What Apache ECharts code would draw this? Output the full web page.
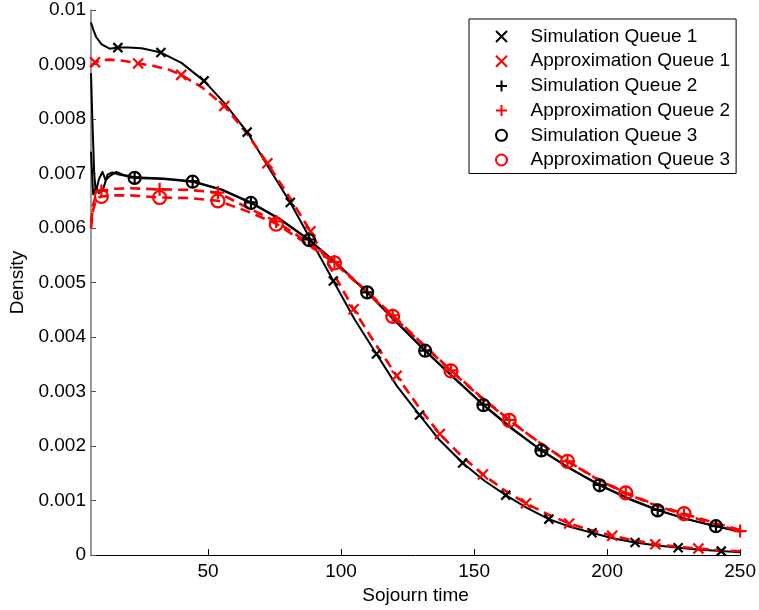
<!DOCTYPE html>
<html>
<head>
<meta charset="utf-8">
<script src="https://cdn.jsdelivr.net/npm/echarts@6/dist/echarts.min.js"></script>
<style>
html,body{margin:0;padding:0;background:#fff;}
#chart{width:759px;height:610px;}
</style>
</head>
<body>
<div id="chart"></div>
<script>
// All density values below are in units of 0.001
const UNIT = 0.001;

const xTickValues = [50, 100, 150, 200, 250];
const yMin = 0, yMax = 0.01, yStep = 0.001;

// ---- line data (curves) ----
const simQ1X = [6, 7, 8, 10, 13, 16.1, 20, 25, 32.3, 40, 48.5, 56, 64.7, 72, 80.9, 89, 97.1, 105, 113.3, 121, 129.5, 137, 145.7, 154, 161.9, 170, 178.1, 186, 194.3, 202, 210.5, 218, 226.7, 235, 242.9, 250];
const simQ1Y = [9.77, 9.62, 9.50, 9.37, 9.29, 9.31, 9.31, 9.30, 9.22, 9.03, 8.70, 8.30, 7.76, 7.17, 6.47, 5.75, 5.03, 4.33, 3.69, 3.10, 2.57, 2.11, 1.69, 1.36, 1.10, 0.86, 0.66, 0.52, 0.41, 0.31, 0.23, 0.18, 0.135, 0.10, 0.073, 0.05];

const appQ1X = [6, 7.5, 10, 13, 18, 23.7, 30, 35, 39.9, 48, 56.1, 64.2, 72.3, 80.4, 88.5, 96.6, 104.7, 112.8, 120.9, 129, 137.1, 145.2, 153.3, 161.4, 169.5, 177.6, 185.7, 193.8, 201.9, 210, 218.1, 226.2, 234.3, 242, 250];
const appQ1Y = [8.96, 9.04, 9.08, 9.09, 9.07, 9.02, 8.97, 8.91, 8.81, 8.57, 8.24, 7.76, 7.19, 6.58, 5.94, 5.22, 4.51, 3.88, 3.29, 2.73, 2.22, 1.82, 1.48, 1.19, 0.95, 0.75, 0.58, 0.46, 0.355, 0.27, 0.20, 0.155, 0.12, 0.09, 0.07];

const simQ2X = [6, 6.5, 7.2, 7.8, 9, 10.3, 11.5, 13, 15.5, 18, 22.4, 33.3, 44.2, 55.1, 66.1, 77, 87.9, 98.9, 109.8, 120.7, 131.6, 142.6, 153.5, 164.4, 175.3, 186.3, 197.2, 208.1, 219.0, 229.9, 240.9, 250];
const simQ2Y = [8.84, 8.00, 7.00, 6.66, 6.90, 7.03, 6.88, 6.95, 7.03, 6.98, 6.93, 6.91, 6.86, 6.71, 6.47, 6.17, 5.79, 5.33, 4.82, 4.28, 3.75, 3.24, 2.76, 2.32, 1.92, 1.58, 1.29, 1.04, 0.83, 0.66, 0.53, 0.44];

const simQ3X = [6, 6.8, 8, 9, 10.5, 12.2, 14, 16.5, 22.4, 33.3, 44.2, 55.1, 66.1, 77, 87.9, 98.9, 109.8, 120.7, 131.6, 142.6, 153.5, 164.4, 175.3, 186.3, 197.2, 208.1, 219.0, 229.9, 240.9, 250];
const simQ3Y = [7.40, 6.62, 6.75, 6.64, 6.70, 6.98, 7.02, 6.98, 6.92, 6.90, 6.85, 6.70, 6.46, 6.16, 5.78, 5.32, 4.82, 4.28, 3.75, 3.25, 2.75, 2.31, 1.92, 1.58, 1.28, 1.03, 0.82, 0.66, 0.53, 0.43];

const appQ2X = [6, 6.8, 7.8, 8.8, 9.9, 15, 20.8, 31.8, 42.7, 53.7, 64.6, 75.6, 86.5, 97.5, 108.4, 119.4, 130.3, 141.3, 152.2, 163.2, 174.1, 185.1, 196, 207, 217.9, 228.9, 239.8, 250];
const appQ2Y = [6.10, 6.42, 6.60, 6.66, 6.68, 6.72, 6.73, 6.71, 6.70, 6.65, 6.38, 6.12, 5.77, 5.38, 4.90, 4.40, 3.89, 3.39, 2.92, 2.48, 2.08, 1.72, 1.40, 1.13, 0.92, 0.74, 0.58, 0.44];

const appQ3X = [6, 6.8, 7.8, 8.8, 9.9, 15, 20.8, 31.8, 42.7, 53.7, 64.6, 75.6, 86.5, 97.5, 108.4, 119.4, 130.3, 141.3, 152.2, 163.2, 174.1, 185.1, 196, 207, 217.9, 228.9, 239.8, 250];
const appQ3Y = [6.00, 6.33, 6.50, 6.56, 6.58, 6.60, 6.60, 6.56, 6.55, 6.50, 6.31, 6.08, 5.73, 5.36, 4.88, 4.38, 3.88, 3.38, 2.91, 2.47, 2.08, 1.72, 1.41, 1.14, 0.93, 0.76, 0.60, 0.46];

// ---- marker data ----
const simQ1MarkX = [16.1, 32.3, 48.5, 64.7, 80.9, 97.1, 113.3, 129.5, 145.7, 161.9, 178.1, 194.3, 210.5, 226.7, 242.9];
const simQ1MarkY = [9.31, 9.22, 8.70, 7.76, 6.47, 5.03, 3.69, 2.57, 1.69, 1.10, 0.66, 0.41, 0.23, 0.135, 0.073];
const appQ1MarkX = [7.5, 23.7, 39.9, 56.1, 72.3, 88.5, 104.7, 120.9, 137.1, 153.3, 169.5, 185.7, 201.9, 218.1, 234.3];
const appQ1MarkY = [9.04, 9.02, 8.81, 8.24, 7.19, 5.94, 4.51, 3.29, 2.22, 1.48, 0.95, 0.58, 0.355, 0.20, 0.12];
const simQ2MarkX = [22.4, 44.2, 66.1, 87.9, 109.8, 131.6, 153.5, 175.3, 197.2, 219.0, 240.9];
const simQ2MarkY = [6.93, 6.86, 6.47, 5.79, 4.82, 3.75, 2.76, 1.92, 1.29, 0.83, 0.53];
const appQ2MarkX = [9.9, 31.8, 53.7, 75.6, 97.5, 119.4, 141.3, 163.2, 185.1, 207.0, 228.9, 250];
const appQ2MarkY = [6.68, 6.71, 6.65, 6.12, 5.38, 4.40, 3.39, 2.48, 1.72, 1.13, 0.74, 0.44];
const simQ3MarkX = [22.4, 44.2, 66.1, 87.9, 109.8, 131.6, 153.5, 175.3, 197.2, 219.0, 240.9];
const simQ3MarkY = [6.92, 6.85, 6.46, 5.78, 4.82, 3.75, 2.75, 1.92, 1.28, 0.82, 0.53];
const appQ3MarkX = [9.9, 31.8, 53.7, 75.6, 97.5, 119.4, 141.3, 163.2, 185.1, 207.0, 228.9];
const appQ3MarkY = [6.58, 6.56, 6.50, 6.07, 5.36, 4.38, 3.38, 2.47, 1.72, 1.14, 0.76];

const names = ['Simulation Queue 1', 'Approximation Queue 1', 'Simulation Queue 2',
               'Approximation Queue 2', 'Simulation Queue 3', 'Approximation Queue 3'];

function pairs(xs, ys) { return xs.map((x, i) => [x, ys[i] * UNIT]); }

const FONT = "'Liberation Sans', Arial, sans-serif";
const FS = 19;
const X_SYM = 'path://M0,0L10,10M10,0L0,10';
const PLUS_SYM = 'path://M5,0L5,10M0,5L10,5';

function lineSeries(xs, ys, color, dashed) {
  return {
    type: 'line', data: pairs(xs, ys), showSymbol: false, symbol: 'none',
    smooth: false, silent: true, legendHoverLink: false,
    lineStyle: { color: color, width: dashed ? 2.6 : 2, type: dashed ? [10, 6] : 'solid', join: 'round' },
    z: dashed ? 3 : 2, animation: false
  };
}
function markSeries(name, xs, ys, color, sym, size) {
  return {
    type: 'scatter', name: name, data: pairs(xs, ys), symbol: sym, symbolSize: size,
    clip: false,
    itemStyle: { color: 'rgba(0,0,0,0)', borderColor: color, borderWidth: 2.2, opacity: 1 },
    z: 5, animation: false
  };
}

const chart = echarts.init(document.getElementById('chart'), null, { renderer: 'canvas' });
chart.setOption({
  animation: false,
  backgroundColor: '#fff',
  textStyle: { fontFamily: FONT },
  grid: { left: 91, right: 17, top: 10, bottom: 53, containLabel: false },
  legend: {
    orient: 'vertical', left: 469, top: 19,
    padding: [8, 6, 4, 26],
    itemWidth: 48, itemHeight: 11, itemGap: 5.7,
    borderColor: '#000', borderWidth: 1, backgroundColor: '#fff',
    textStyle: { fontFamily: FONT, fontSize: FS, color: '#000' },
    data: names
  },
  xAxis: {
    type: 'value', min: 6, max: 250,
    name: 'Sojourn time', nameLocation: 'middle', nameGap: 28,
    nameTextStyle: { fontFamily: FONT, fontSize: FS, color: '#000' },
    axisLine: { show: true, onZero: false, lineStyle: { color: '#000', width: 1 } },
    axisTick: { show: true, inside: true, length: 6, customValues: xTickValues, lineStyle: { color: '#000' } },
    axisLabel: { customValues: xTickValues, margin: 7, fontFamily: FONT, fontSize: FS, color: '#000' },
    splitLine: { show: false }
  },
  yAxis: {
    type: 'value', min: yMin, max: yMax, interval: yStep,
    name: 'Density', nameLocation: 'middle', nameGap: 56,
    nameTextStyle: { fontFamily: FONT, fontSize: FS, color: '#000' },
    axisLine: { show: true, onZero: false, lineStyle: { color: '#777', width: 1.5 } },
    axisTick: { show: true, inside: true, length: 5, lineStyle: { color: '#555' } },
    axisLabel: { margin: 5, fontFamily: FONT, fontSize: FS, color: '#000',
      formatter: v => String(+v.toFixed(3)) },
    splitLine: { show: false }
  },
  series: [
    lineSeries(simQ1X, simQ1Y, '#000', false),
    lineSeries(simQ2X, simQ2Y, '#000', false),
    lineSeries(simQ3X, simQ3Y, '#000', false),
    lineSeries(appQ1X, appQ1Y, '#f00', true),
    lineSeries(appQ2X, appQ2Y, '#f00', true),
    lineSeries(appQ3X, appQ3Y, '#f00', true),
    markSeries(names[0], simQ1MarkX, simQ1MarkY, '#000', X_SYM, 9),
    markSeries(names[1], appQ1MarkX, appQ1MarkY, '#f00', X_SYM, 10),
    markSeries(names[2], simQ2MarkX, simQ2MarkY, '#000', PLUS_SYM, 12),
    markSeries(names[3], appQ2MarkX, appQ2MarkY, '#f00', PLUS_SYM, 13),
    markSeries(names[4], simQ3MarkX, simQ3MarkY, '#000', 'circle', 12),
    markSeries(names[5], appQ3MarkX, appQ3MarkY, '#f00', 'circle', 13)
  ]
});
</script>
</body>
</html>
